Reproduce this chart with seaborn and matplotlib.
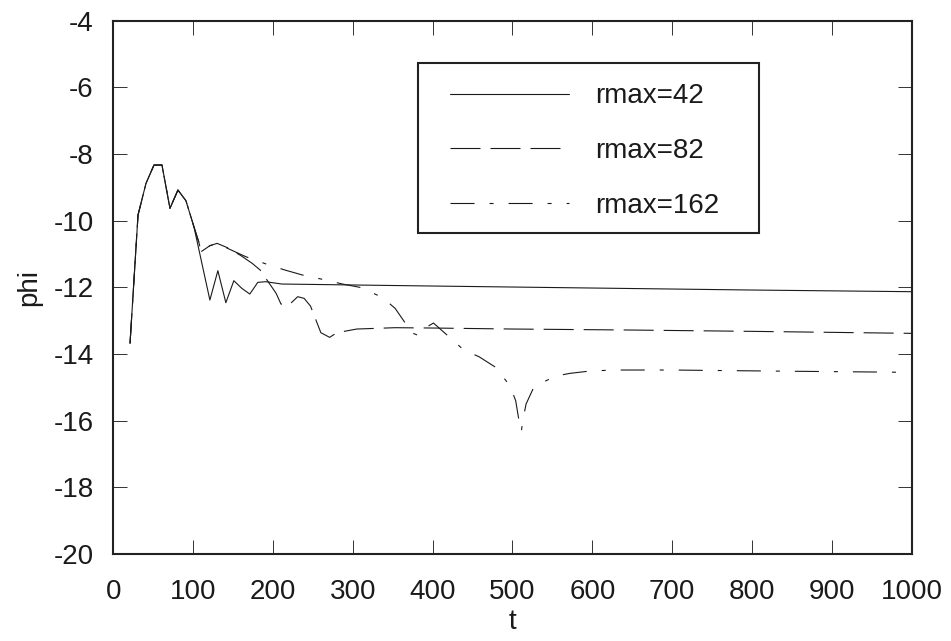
import matplotlib
matplotlib.use('Agg')
import matplotlib.pyplot as plt
from matplotlib.patches import Rectangle
import seaborn as sns
import pandas as pd

# ---- data ----
t_start = [21, 31, 41, 51, 61, 71, 81, 91, 101]
phi_start = [-13.68, -9.83, -8.88, -8.33, -8.33, -9.63, -9.08, -9.40, -10.18]

t_r42 = t_start + [121, 131, 141, 151, 161, 171, 181, 191, 211, 400, 600, 800, 1000]
phi_r42 = phi_start + [-12.38, -11.50, -12.46, -11.80, -12.03, -12.20, -11.85, -11.83,
                       -11.90, -11.96, -12.02, -12.08, -12.13]

t_r82 = t_start + [107, 110, 121, 130, 143, 160, 174, 184, 204, 210, 220, 231, 239, 247,
                   260, 271, 280, 305, 353, 400, 500, 647, 800, 1000]
phi_r82 = phi_start + [-10.63, -10.93, -10.75, -10.68, -10.81, -11.05, -11.28, -11.48,
                       -12.18, -12.50, -12.53, -12.28, -12.33, -12.56, -13.36, -13.50,
                       -13.36, -13.25, -13.21, -13.22, -13.25, -13.28, -13.32, -13.38]

t_r162 = t_start + [107, 110, 121, 130, 145, 166, 195, 215, 237, 266, 287, 309, 337, 353,
                    366, 370, 381, 385, 401, 418, 439, 458, 479, 497, 504, 508, 511, 513,
                    517, 527, 554, 572, 597, 627, 700, 820, 1000]
phi_r162 = phi_start + [-10.63, -10.93, -10.75, -10.68, -10.85, -11.08, -11.33, -11.48,
                        -11.63, -11.78, -11.90, -12.00, -12.30, -12.63, -13.08, -13.33,
                        -13.43, -13.30, -13.07, -13.43, -13.88, -14.08, -14.40, -14.96,
                        -15.40, -15.98, -16.33, -15.98, -15.50, -14.98, -14.66, -14.58,
                        -14.51, -14.48, -14.48, -14.51, -14.55]

labels = ['rmax=42', 'rmax=82', 'rmax=162']
x_ticks = list(range(0, 1001, 100))
y_ticks = list(range(-20, -3, 2))

# ---- style ----
sns.set_theme(style='ticks')
plt.rcParams['font.family'] = ['Liberation Sans', 'DejaVu Sans']
plt.rcParams['axes.unicode_minus'] = False
plt.rcParams['lines.scale_dashes'] = False

FS = 20
col = '#1a1a1a'

fig = plt.figure(figsize=(9.51, 6.41), dpi=100)
ax = fig.add_axes([0.1191, 0.1357, 0.8396, 0.8320])

series = [(t_r42, phi_r42), (t_r82, phi_r82), (t_r162, phi_r162)]
dashes = [None, (0, (21.6, 7.2)), (0, (17.3, 10.8, 2.9, 10.8))]
for (tt, pp), lab, ds in zip(series, labels, dashes):
    df = pd.DataFrame({'t': tt, 'phi': pp})
    sns.lineplot(data=df, x='t', y='phi', ax=ax, color=col, linewidth=0.8,
                 label=lab, sort=False, estimator=None)
    line = ax.get_lines()[-1]
    if ds is not None:
        line.set_linestyle(ds)

ax.set_xlim(0, 1000)
ax.set_ylim(-20, -4)
ax.set_xticks(x_ticks)
ax.set_yticks(y_ticks)
ax.set_xticklabels([str(v) for v in x_ticks])
ax.set_yticklabels([str(v) for v in y_ticks])
ax.tick_params(direction='in', length=10, width=0.7, color='#333333',
               top=True, right=True, labelsize=FS, labelcolor=col)
ax.tick_params(axis='x', pad=18)
ax.tick_params(axis='y', pad=14)
for sp in ax.spines.values():
    sp.set_visible(True)
    sp.set_linewidth(1.5)
    sp.set_color('#222222')

ax.set_xlabel('t', fontsize=FS, color=col, labelpad=3)
ax.set_ylabel('phi', fontsize=FS, color=col, labelpad=8)

# legend (frame drawn separately to match the box size)
leg = ax.legend(loc='upper left', bbox_to_anchor=(0.4217, 0.8825), borderaxespad=0,
                fontsize=FS, handlelength=4.28, handletextpad=0.94, labelspacing=1.03,
                borderpad=0.0, frameon=False)
for t in leg.get_texts():
    t.set_color(col)
ax.add_patch(Rectangle((0.3816, 0.6013), 0.4270, 0.3188, transform=ax.transAxes,
                       fill=False, edgecolor='#222222', linewidth=1.5, zorder=5))

fig.savefig('out.png', dpi=100)
